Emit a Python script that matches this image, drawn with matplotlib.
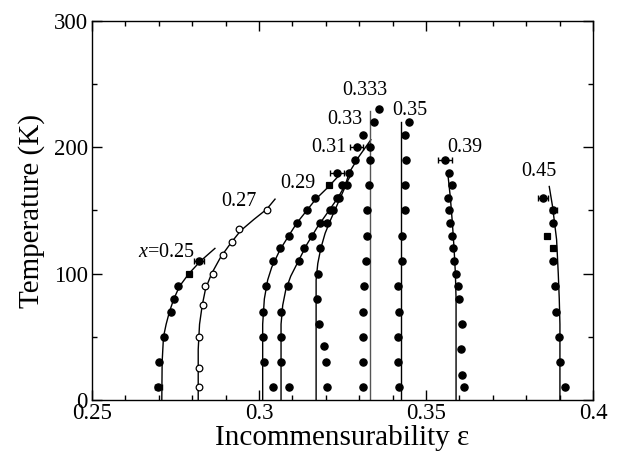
import matplotlib
matplotlib.use("Agg")
import matplotlib.pyplot as plt
from matplotlib.ticker import MultipleLocator, FuncFormatter

plt.rcParams['font.family'] = ['Liberation Serif', 'DejaVu Serif']
plt.rcParams['mathtext.fontset'] = 'custom'
plt.rcParams['mathtext.rm'] = 'Liberation Serif'
plt.rcParams['mathtext.it'] = 'Liberation Serif:italic'

# ---------------- data (eps, T) ----------------
# x = 0.25 (filled)
T_025 = [10, 30, 50, 70, 80, 90, 100, 110]
e_025 = [0.2699, 0.2701, 0.2716, 0.2736, 0.2746, 0.2758, 0.2789, 0.2821]
err_025 = [0.0010, 0, 0, 0, 0, 0, 0, 0.0015]
sq_025 = [100]

# x = 0.27 (open)
T_027 = [10, 25, 50, 75, 90, 100, 115, 125, 135, 150]
e_027 = [0.2821, 0.2821, 0.2821, 0.2831, 0.2838, 0.2861, 0.2891, 0.2920, 0.2941, 0.3023]

# x = 0.29
T_029 = [10, 30, 50, 70, 90, 110, 120, 130, 140, 150, 160, 170, 180]
e_029 = [0.3041, 0.3015, 0.3013, 0.3011, 0.3021, 0.3041, 0.3063, 0.3091, 0.3115,
         0.3145, 0.3168, 0.3210, 0.3234]
err_029 = [0, 0, 0, 0, 0, 0, 0, 0, 0, 0, 0, 0, 0.0020]
sq_029 = [170]

# x = 0.31
T_031 = [10, 30, 50, 70, 90, 110, 120, 130, 140, 150, 160, 170, 180, 190, 200]
e_031 = [0.3090, 0.3066, 0.3066, 0.3066, 0.3088, 0.3119, 0.3136, 0.3158, 0.3183,
         0.3213, 0.3235, 0.3248, 0.3270, 0.3287, 0.3292]
err_031 = [0, 0, 0, 0, 0, 0, 0, 0, 0, 0, 0, 0, 0, 0, 0.0020]

# x = 0.33
T_033 = [10, 30, 43, 60, 80, 100, 120, 140, 150, 160, 170]
e_033 = [0.3203, 0.3201, 0.3195, 0.3180, 0.3175, 0.3177, 0.3183, 0.3204, 0.3222,
         0.3239, 0.3263]

# x = 0.333
T_0333 = [10, 30, 50, 70, 90, 110, 130, 150, 170, 190, 200, 210, 220, 230]
e_0333 = [0.3312, 0.3312, 0.3312, 0.3310, 0.3314, 0.3319, 0.3322, 0.3324, 0.3330,
          0.3332, 0.3332, 0.3312, 0.3345, 0.3360]

# x = 0.35
T_035 = [10, 30, 50, 70, 90, 110, 130, 150, 170, 190, 210, 220]
e_035 = [0.3419, 0.3415, 0.3415, 0.3420, 0.3417, 0.3427, 0.3427, 0.3437, 0.3437,
         0.3440, 0.3437, 0.3449]

# x = 0.39
T_039 = [10, 20, 40, 60, 80, 90, 100, 110, 120, 130, 140, 150, 160, 170, 180, 190]
e_039 = [0.3613, 0.3609, 0.3606, 0.3607, 0.3600, 0.3595, 0.3589, 0.3585, 0.3582,
         0.3579, 0.3572, 0.3569, 0.3565, 0.3579, 0.3569, 0.3557]
err_039 = [0] * 15 + [0.0022]

# x = 0.45
T_045 = [10, 30, 50, 70, 90, 110, 120, 130, 140, 150, 160]
e_045 = [0.3917, 0.3901, 0.3899, 0.3890, 0.3887, 0.3879, 0.3879, 0.3862, 0.3879,
         0.3881, 0.3851]
err_045 = [0, 0, 0, 0, 0, 0, 0, 0, 0, 0.0010, 0.0015]
sq_045 = [120, 130]

# guide curves (eps, T)
cT_025 = [0, 30, 50, 60, 70, 80, 90, 100, 110, 120]
ce_025 = [0.2709, 0.2710, 0.2714, 0.2722, 0.2732, 0.2745, 0.2762, 0.2790, 0.2825, 0.2868]
cT_027 = [0, 40, 60, 75, 88, 100, 113, 124, 134, 143, 151, 159]
ce_027 = [0.2818, 0.2818, 0.2822, 0.2830, 0.2840, 0.2858, 0.2885, 0.2915, 0.2945,
          0.2985, 0.3023, 0.3048]
cT_029 = [0, 60, 80, 95, 105, 119, 130, 140, 150, 159, 168, 177]
ce_029 = [0.3011, 0.3011, 0.3016, 0.3026, 0.3038, 0.3063, 0.3089, 0.3113, 0.3143,
          0.3170, 0.3205, 0.3237]
cT_031 = [0, 60, 75, 87, 98, 110, 123, 137, 149, 160, 170, 178]
ce_031 = [0.3066, 0.3066, 0.3071, 0.3080, 0.3095, 0.3118, 0.3143, 0.3175, 0.3207,
          0.3236, 0.3258, 0.3275]
cT_033 = [0, 95, 108, 120, 132, 143, 155, 167, 180, 193, 206]
ce_033 = [0.3171, 0.3171, 0.3176, 0.3185, 0.3198, 0.3215, 0.3235, 0.3255, 0.3270,
          0.3300, 0.3335]
cT_0333 = [0, 229]
ce_0333 = [0.3332, 0.3332]
cT_035 = [0, 220]
ce_035 = [0.3425, 0.3425]
cT_039 = [0, 80, 100, 120, 140, 160, 180]
ce_039 = [0.3590, 0.3590, 0.3588, 0.3584, 0.3579, 0.3573, 0.3565]
cT_045 = [0, 60, 80, 100, 127, 153, 169]
ce_045 = [0.3901, 0.3901, 0.3899, 0.3896, 0.3891, 0.3879, 0.3869]

labels = ['$x$=0.25', '0.27', '0.29', '0.31', '0.33', '0.333', '0.35', '0.39', '0.45']
label_eps = [0.2722, 0.2939, 0.3117, 0.3208, 0.3257, 0.3317, 0.3451, 0.3617, 0.3837]
label_T = [117, 157, 171, 200, 222, 245, 229, 200, 181]

# ---------------- figure ----------------
fig = plt.figure(figsize=(6.18, 4.53), dpi=100)
ax = fig.add_axes([92 / 618, 53 / 453, 501 / 618, 379 / 453])

curves = [(ce_025, cT_025, 'black'), (ce_027, cT_027, 'black'), (ce_029, cT_029, 'black'),
          (ce_031, cT_031, 'black'), (ce_033, cT_033, 'black'), (ce_0333, cT_0333, '#555555'),
          (ce_035, cT_035, 'black'), (ce_039, cT_039, 'black'), (ce_045, cT_045, 'black')]
for ce, cT, col in curves:
    ax.plot(ce, cT, color=col, lw=1.0, zorder=2)

ms = 5.2
def draw(eps, T, err=None, squares=(), open_=False):
    for i, (e, t) in enumerate(zip(eps, T)):
        mk = 's' if t in squares else 'o'
        fc = 'white' if open_ else 'black'
        size = ms - 0.6 if mk == 's' else ms
        if open_:
            size = ms - 0.4
        ax.plot([e], [t], marker=mk, ms=size, mfc=fc, mec='black', mew=0.9,
                ls='none', zorder=3)
        if err is not None and err[i] > 0:
            ax.errorbar([e], [t], xerr=[err[i]], fmt='none', ecolor='black',
                        elinewidth=1.0, capsize=2.5, capthick=1.0, zorder=3)

draw(e_025, T_025, err_025, sq_025)
draw(e_027, T_027, open_=True)
draw(e_029, T_029, err_029, sq_029)
draw(e_031, T_031, err_031)
draw(e_033, T_033)
draw(e_0333, T_0333)
draw(e_035, T_035)
draw(e_039, T_039, err_039)
draw(e_045, T_045, err_045, sq_045)

for lab, le, lt in zip(labels, label_eps, label_T):
    ax.text(le, lt, lab, ha='center', va='center', fontsize=14.5, zorder=4)

ax.set_xlim(0.25, 0.4)
ax.set_ylim(0, 300)
ax.xaxis.set_major_locator(MultipleLocator(0.05))
ax.xaxis.set_minor_locator(MultipleLocator(0.01))
ax.yaxis.set_major_locator(MultipleLocator(100))
ax.yaxis.set_minor_locator(MultipleLocator(50))
ax.xaxis.set_major_formatter(FuncFormatter(lambda v, p: ('%.2f' % v).rstrip('0')))
ax.tick_params(which='both', direction='in', top=True, right=True, labelsize=16.5, width=1.0)
ax.tick_params(which='major', length=7)
ax.tick_params(which='minor', length=3.6)
ax.tick_params(axis='y', pad=3)
ax.tick_params(axis='x', pad=2)
for s in ax.spines.values():
    s.set_linewidth(1.0)

ax.set_xlabel('Incommensurability ε', fontsize=21, labelpad=1)
ax.set_ylabel('Temperature (K)', fontsize=21, labelpad=6)

fig.savefig('out.png', dpi=100)
